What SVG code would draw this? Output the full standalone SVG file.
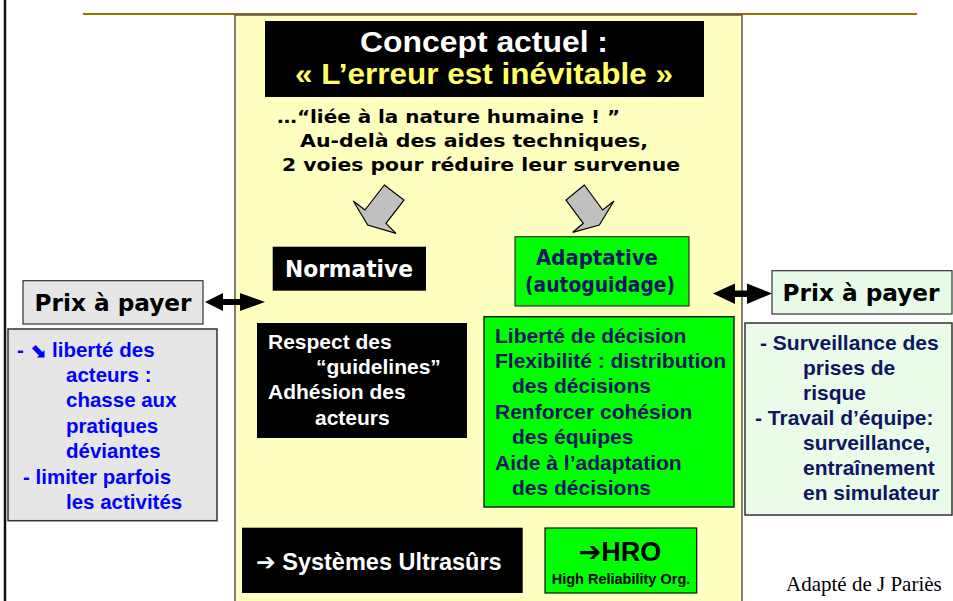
<svg xmlns="http://www.w3.org/2000/svg" width="953" height="601" viewBox="0 0 953 601">
<style>
.arial{font-family:"Liberation Sans",Arial,sans-serif;font-weight:bold}
.comic{font-family:"Comic Sans MS","DejaVu Sans",sans-serif;font-weight:bold}
.blk{fill:#000}
.wt{fill:#fff}
.navy{fill:#0d1660}
.blue{fill:#0000ff}
.garrow{fill:#c0c0c0;stroke:#000;stroke-width:1.2;stroke-linejoin:miter}
.dbl{fill:#000}
</style>
<rect width="953" height="601" fill="#fff"/>
<line x1="5" y1="0" x2="5" y2="601" stroke="#111" stroke-width="2.5"/>
<line x1="83" y1="14" x2="917" y2="14" stroke="#a07000" stroke-width="2"/>
<g id="panel">
<rect x="235" y="15" width="507" height="590" fill="#ffffc0" stroke="#555" stroke-width="1.5"/>
</g>
<g id="title">
<rect x="265" y="21" width="439" height="76" fill="#000"/>
<text class="arial wt" x="484" y="52" font-size="29" text-anchor="middle" textLength="248" lengthAdjust="spacingAndGlyphs">Concept actuel :</text>
<text class="arial" x="484" y="84" font-size="29" text-anchor="middle" fill="#ffff66" textLength="378" lengthAdjust="spacingAndGlyphs">« L’erreur est inévitable »</text>
</g>
<g id="subtitle" class="comic blk" font-size="18.5">
<text x="277" y="123" textLength="343" lengthAdjust="spacingAndGlyphs">…“liée à la nature humaine ! ”</text>
<text x="300" y="147" textLength="348" lengthAdjust="spacingAndGlyphs">Au-delà des aides techniques,</text>
<text x="282" y="171" textLength="398" lengthAdjust="spacingAndGlyphs">2 voies pour réduire leur survenue</text>
</g>
<g id="connectors">
<polygon class="garrow" points="384.3,185 404,200 386,223.3 396,233.3 367.7,225 353.3,201 365,210"/>
<polygon class="garrow" points="584.3,185 566,200 583.3,223.3 572.7,232.3 599.3,225 614,201 602.7,210"/>
<polygon class="dbl" points="205,302 223,293 223,299 240,299 240,293 265,302 240,311 240,305 223,305 223,311"/>
<polygon class="dbl" points="713,293.5 735,283.5 735,290.5 747,290.5 747,283.5 772,293.5 747,304 747,297 735,297 735,304"/>
</g>
<g id="normative">
<rect x="272.7" y="246.7" width="153.3" height="44" fill="#000"/>
<text class="comic wt" x="349" y="277" font-size="23" text-anchor="middle" textLength="128" lengthAdjust="spacingAndGlyphs">Normative</text>
</g>
<g id="respect">
<rect x="257" y="323" width="210" height="115" fill="#000"/>
<g class="arial wt" font-size="21">
<text x="268" y="349">Respect des</text>
<text x="316" y="374">“guidelines”</text>
<text x="268" y="399">Adhésion des</text>
<text x="315" y="425">acteurs</text>
</g>
</g>
<g id="prix-left">
<rect x="23" y="280.7" width="180" height="43.3" fill="#e6e6e6" stroke="#333" stroke-width="1.2"/>
<text class="comic blk" x="113" y="311" font-size="23" text-anchor="middle" textLength="157" lengthAdjust="spacingAndGlyphs">Prix à payer</text>
</g>
<g id="cost-left">
<rect x="8" y="329" width="209" height="191.7" fill="#e6e6e6" stroke="#333" stroke-width="1.5"/>
<g class="arial blue" font-size="20.5">
<text x="17" y="357">- <tspan font-family="DejaVu Sans" font-size="20">⬊</tspan> liberté des</text>
<text x="66" y="382">acteurs :</text>
<text x="66" y="407">chasse aux</text>
<text x="66" y="433">pratiques</text>
<text x="66" y="458">déviantes</text>
<text x="23" y="484">- limiter parfois</text>
<text x="66" y="509">les activités</text>
</g>
</g>
<g id="adaptative">
<rect x="515" y="236.7" width="174" height="69.3" fill="#00ff00" stroke="#333" stroke-width="1.2"/>
<text class="comic navy" x="597" y="265" font-size="21.5" text-anchor="middle" textLength="122" lengthAdjust="spacingAndGlyphs">Adaptative</text>
<text class="comic navy" x="600" y="292" font-size="21.5" text-anchor="middle" textLength="150" lengthAdjust="spacingAndGlyphs">(autoguidage)</text>
</g>
<g id="adapt-list">
<rect x="484" y="316.7" width="250" height="190.3" fill="#00ff00" stroke="#222" stroke-width="1.5"/>
<g class="arial navy" font-size="21">
<text x="495" y="343">Liberté de décision</text>
<text x="495" y="368">Flexibilité : distribution</text>
<text x="512" y="393">des décisions</text>
<text x="495" y="419">Renforcer cohésion</text>
<text x="512" y="444">des équipes</text>
<text x="495" y="470">Aide à l’adaptation</text>
<text x="512" y="495">des décisions</text>
</g>
</g>
<g id="prix-right">
<rect x="772" y="270.7" width="180" height="43.3" fill="#e8fbe8" stroke="#333" stroke-width="1.2"/>
<text class="comic blk" x="861" y="301" font-size="23" text-anchor="middle" textLength="157" lengthAdjust="spacingAndGlyphs">Prix à payer</text>
</g>
<g id="cost-right">
<rect x="745" y="323" width="207" height="192" fill="#eafbea" stroke="#333" stroke-width="1.5"/>
<g class="arial navy" font-size="21">
<text x="760" y="350">- Surveillance des</text>
<text x="803" y="375">prises de</text>
<text x="803" y="400">risque</text>
<text x="755" y="425">- Travail d’équipe:</text>
<text x="803" y="450">surveillance,</text>
<text x="803" y="475">entraînement</text>
<text x="803" y="500">en simulateur</text>
</g>
</g>
<g id="ultrasurs">
<rect x="242" y="527.7" width="280.7" height="65.3" fill="#000"/>
<text class="arial wt" x="256" y="570" font-size="23.5"><tspan font-family="DejaVu Sans" font-weight="bold">➔</tspan> Systèmes Ultrasûrs</text>
</g>
<g id="hro">
<rect x="545" y="528" width="151.7" height="65" fill="#00ff00" stroke="#111" stroke-width="1.2"/>
<text class="arial blk" x="620" y="561" font-size="27"><tspan x="620" text-anchor="middle"><tspan font-family="DejaVu Sans" font-weight="bold">➔</tspan>HRO</tspan></text>
<text class="arial blk" x="621" y="584" font-size="14.5" text-anchor="middle">High Reliability Org.</text>
</g>
<text x="786" y="591" font-family="Liberation Serif,serif" font-size="21" fill="#000">Adapté de J Pariès</text>
</svg>
